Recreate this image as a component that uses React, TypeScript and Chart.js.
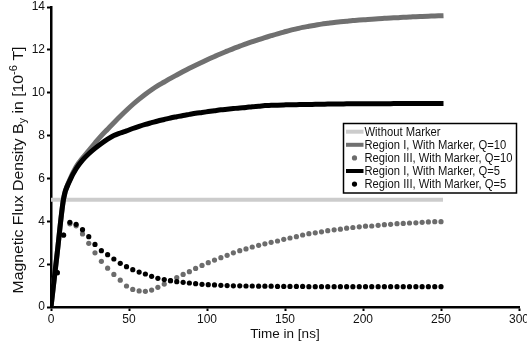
import { useEffect, useRef } from "react";
import { Chart, registerables } from "chart.js";
Chart.register(...registerables);

// time in ns (63 samples)
const TIMES = [0, 4.03, 8.06, 12.1, 16.1, 20.2, 24.2, 28.2, 32.3, 36.3, 40.3, 44.4, 48.4, 52.4, 56.5, 60.5, 64.5, 68.5, 72.6, 76.6, 80.6, 84.7, 88.7, 92.7, 96.8, 100.8, 104.8, 108.9, 112.9, 116.9, 121.0, 125.0, 129.0, 133.1, 137.1, 141.1, 145.2, 149.2, 153.2, 157.3, 161.3, 165.3, 169.4, 173.4, 177.4, 181.5, 185.5, 189.5, 193.5, 197.6, 201.6, 205.6, 209.7, 213.7, 217.7, 221.8, 225.8, 229.8, 233.9, 237.9, 241.9, 246.0, 250.0];

const WITHOUT_MARKER_T = [0, 250];
const WITHOUT_MARKER = [5, 5];

const REGION1_Q10 = [0, 2.55, 5.05, 5.95, 6.55, 6.95, 7.3, 7.65, 8.0, 8.3, 8.6, 8.9, 9.18, 9.45, 9.7, 9.93, 10.14, 10.33, 10.5, 10.67, 10.83, 10.99, 11.14, 11.28, 11.42, 11.56, 11.69, 11.82, 11.94, 12.06, 12.17, 12.28, 12.38, 12.48, 12.57, 12.66, 12.75, 12.83, 12.91, 12.98, 13.05, 13.1, 13.15, 13.2, 13.24, 13.28, 13.31, 13.34, 13.37, 13.39, 13.41, 13.43, 13.45, 13.47, 13.49, 13.5, 13.52, 13.53, 13.55, 13.56, 13.57, 13.58, 13.59];

const REGION3_Q10 = [0, 1.6, 3.35, 3.88, 3.79, 3.41, 2.97, 2.53, 2.13, 1.81, 1.52, 1.25, 0.98, 0.82, 0.75, 0.73, 0.79, 0.92, 1.07, 1.23, 1.37, 1.52, 1.65, 1.8, 1.94, 2.07, 2.19, 2.3, 2.41, 2.53, 2.63, 2.71, 2.8, 2.88, 2.95, 3.02, 3.08, 3.16, 3.22, 3.28, 3.36, 3.42, 3.46, 3.51, 3.56, 3.6, 3.63, 3.68, 3.71, 3.74, 3.77, 3.78, 3.81, 3.84, 3.86, 3.89, 3.9, 3.92, 3.93, 3.95, 3.97, 3.98, 3.98];

const REGION1_Q5 = [0, 2.55, 5.05, 5.9, 6.45, 6.85, 7.15, 7.4, 7.63, 7.83, 8.0, 8.12, 8.22, 8.33, 8.43, 8.52, 8.6, 8.68, 8.75, 8.82, 8.88, 8.94, 8.99, 9.04, 9.08, 9.12, 9.16, 9.2, 9.23, 9.26, 9.29, 9.31, 9.35, 9.37, 9.4, 9.41, 9.42, 9.43, 9.44, 9.44, 9.45, 9.45, 9.46, 9.46, 9.47, 9.47, 9.47, 9.48, 9.48, 9.48, 9.48, 9.49, 9.49, 9.49, 9.49, 9.5, 9.5, 9.5, 9.5, 9.5, 9.5, 9.5, 9.5];

const REGION3_Q5 = [0, 1.6, 3.36, 3.95, 3.86, 3.61, 3.28, 2.92, 2.63, 2.44, 2.24, 2.04, 1.88, 1.74, 1.63, 1.54, 1.43, 1.34, 1.28, 1.23, 1.18, 1.15, 1.12, 1.09, 1.06, 1.04, 1.03, 1.01, 1.0, 0.99, 0.99, 0.98, 0.98, 0.97, 0.97, 0.97, 0.96, 0.96, 0.96, 0.96, 0.96, 0.95, 0.95, 0.95, 0.95, 0.95, 0.95, 0.95, 0.95, 0.95, 0.95, 0.95, 0.95, 0.95, 0.95, 0.95, 0.95, 0.95, 0.95, 0.95, 0.95, 0.95, 0.95];

const LEGEND_LABELS = [
  "Without Marker",
  "Region I, With Marker, Q=10",
  "Region III, With Marker, Q=10",
  "Region I, With Marker, Q=5",
  "Region III, With Marker, Q=5",
];

const X_MIN = 0;
const X_MAX = 300;
const X_STEP = 50;
const Y_MIN = 0;
const Y_MAX = 14;
const Y_STEP = 2;

const X_TITLE = "Time in [ns]";

const FONT = "'Liberation Sans', Arial, sans-serif";

const toPts = (ts: number[], vs: number[]) => vs.map((v, i) => ({ x: ts[i], y: v }));

export default function App() {
  const ref = useRef<HTMLCanvasElement | null>(null);
  useEffect(() => {
    const canvas = ref.current;
    if (!canvas) return;

    const overlay = {
      id: "overlay",
      afterDraw(chart: any) {
        const ctx = chart.ctx as CanvasRenderingContext2D;
        // Y title with sub/superscript
        ctx.save();
        ctx.fillStyle = "#111";
        ctx.textBaseline = "alphabetic";
        const big = 14;
        const small = 10;
        const parts: [string, number, number][] = [
          ["Magnetic Flux Density B", big, 0],
          ["y", small, 3.5],
          [" in [10", big, 0],
          ["-6", small, -6],
          [" T]", big, 0],
        ];
        let total = 0;
        for (const p of parts) {
          ctx.font = `${p[1]}px ${FONT}`;
          total += ctx.measureText(p[0]).width;
        }
        const targetLen = 247;
        const sx = targetLen / total;
        ctx.translate(22.5, 170);
        ctx.rotate(-Math.PI / 2);
        ctx.scale(sx, 1);
        let x = -total / 2;
        for (const p of parts) {
          ctx.font = `${p[1]}px ${FONT}`;
          ctx.fillText(p[0], x, p[2]);
          x += ctx.measureText(p[0]).width;
        }
        ctx.restore();

        // X title
        ctx.save();
        ctx.fillStyle = "#111";
        ctx.font = `13.5px ${FONT}`;
        ctx.textAlign = "center";
        ctx.textBaseline = "alphabetic";
        const ca = chart.chartArea;
        ctx.fillText(X_TITLE, (ca.left + ca.right) / 2, 337.5);
        ctx.restore();

        // Legend box
        ctx.save();
        const bx = 343.5, by = 123.5, bw = 173, bh = 69.5;
        ctx.fillStyle = "#fff";
        ctx.fillRect(bx, by, bw, bh);
        ctx.strokeStyle = "#000";
        ctx.lineWidth = 1.5;
        ctx.strokeRect(bx, by, bw, bh);
        const datasets = chart.data.datasets;
        const rowY = [131.7, 144.8, 157.9, 171, 184.1];
        ctx.font = `12px ${FONT}`;
        ctx.textBaseline = "middle";
        ctx.textAlign = "left";
        let widest = 0;
        LEGEND_LABELS.forEach((l) => {
          widest = Math.max(widest, ctx.measureText(l).width);
        });
        const tsx = Math.min(1, 148 / widest);
        LEGEND_LABELS.forEach((label, i) => {
          const ds = datasets[i];
          const y = rowY[i];
          if (ds.showLine === false) {
            ctx.fillStyle = ds.backgroundColor;
            ctx.beginPath();
            ctx.arc(354.5, y, 2.6, 0, Math.PI * 2);
            ctx.fill();
          } else {
            ctx.fillStyle = ds.borderColor;
            ctx.fillRect(346, y - 2, 17.5, 4);
          }
          ctx.save();
          ctx.fillStyle = "#111";
          ctx.translate(364.5, y + 0.5);
          ctx.scale(tsx, 1);
          ctx.fillText(label, 0, 0);
          ctx.restore();
        });
        ctx.restore();
      },
    };

    const chart = new Chart(canvas, {
      type: "line",
      data: {
        datasets: [
          {
            label: LEGEND_LABELS[0],
            data: toPts(WITHOUT_MARKER_T, WITHOUT_MARKER),
            borderColor: "#cccccc",
            backgroundColor: "#cccccc",
            borderWidth: 4,
            pointRadius: 0,
            borderCapStyle: "square",
            order: 5,
          },
          {
            label: LEGEND_LABELS[1],
            data: toPts(TIMES, REGION1_Q10),
            borderColor: "#707070",
            backgroundColor: "#707070",
            borderWidth: 5,
            pointRadius: 0,
            cubicInterpolationMode: "monotone",
            borderCapStyle: "square",
            order: 4,
          },
          {
            label: LEGEND_LABELS[2],
            data: toPts(TIMES, REGION3_Q10),
            borderColor: "#6c6c6c",
            backgroundColor: "#6c6c6c",
            showLine: false,
            pointRadius: 2.6,
            pointBorderWidth: 0,
            order: 3,
          },
          {
            label: LEGEND_LABELS[3],
            data: toPts(TIMES, REGION1_Q5),
            borderColor: "#000000",
            backgroundColor: "#000000",
            borderWidth: 5,
            pointRadius: 0,
            cubicInterpolationMode: "monotone",
            borderCapStyle: "square",
            order: 2,
          },
          {
            label: LEGEND_LABELS[4],
            data: toPts(TIMES, REGION3_Q5),
            borderColor: "#000000",
            backgroundColor: "#000000",
            showLine: false,
            pointRadius: 2.6,
            pointBorderWidth: 0,
            order: 1,
          },
        ] as any,
      },
      options: {
        animation: false,
        responsive: false,
        maintainAspectRatio: false,
        layout: { padding: { left: 0, top: 7, right: 8, bottom: 0 } },
        plugins: {
          legend: { display: false },
          tooltip: { enabled: false },
          title: { display: false },
        },
        scales: {
          x: {
            type: "linear",
            min: X_MIN,
            max: X_MAX,
            ticks: {
              stepSize: X_STEP,
              color: "#111",
              font: { family: FONT, size: 12 },
              padding: 1,
              maxRotation: 0,
            },
            grid: {
              display: true,
              drawOnChartArea: false,
              drawTicks: true,
              tickLength: 4,
              tickColor: "#000",
              tickWidth: 2,
            },
            border: { display: true, color: "#000", width: 2.5 },
            afterFit(scale: any) {
              scale.height = 38;
              scale.paddingLeft = 0;
              scale.paddingRight = 0;
            },
          },
          y: {
            type: "linear",
            min: Y_MIN,
            max: Y_MAX,
            ticks: {
              stepSize: Y_STEP,
              color: "#111",
              font: { family: FONT, size: 12 },
              padding: 2,
            },
            grid: {
              display: true,
              drawOnChartArea: false,
              drawTicks: true,
              tickLength: 4,
              tickColor: "#000",
              tickWidth: 2,
            },
            border: { display: true, color: "#000", width: 2.5 },
            afterFit(scale: any) {
              scale.width = 51;
              scale.paddingTop = 0;
              scale.paddingBottom = 0;
            },
          },
        },
      } as any,
      plugins: [overlay],
    });
    return () => chart.destroy();
  }, []);

  return (
    <div style={{ position: "fixed", left: 0, top: 0, width: 527, height: 345, background: "#fff" }}>
      <canvas ref={ref} width={527} height={345} style={{ display: "block", width: 527, height: 345 }} />
    </div>
  );
}
